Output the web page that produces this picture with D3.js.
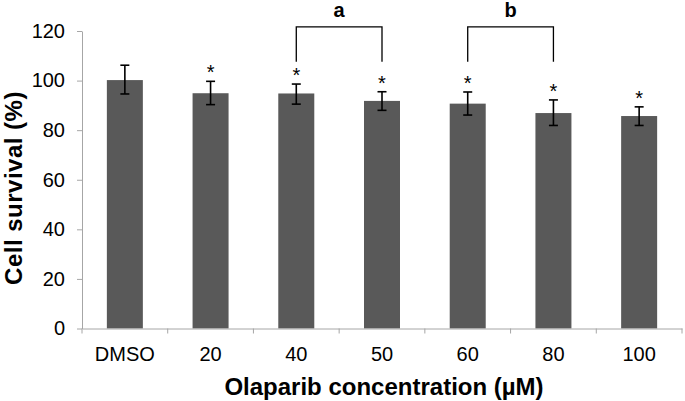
<!DOCTYPE html>
<html><head><meta charset="utf-8">
<script src="https://cdn.jsdelivr.net/npm/d3@7"></script>
<style>body{margin:0;background:#fff}svg{display:block}text{font-family:"Liberation Sans",Arial,sans-serif}</style>
</head><body><svg id="c" width="685" height="401"></svg>
<script>
const categories = ["DMSO","20","40","50","60","80","100"];
const survival = [100.2, 94.9, 94.8, 91.8, 90.7, 86.9, 85.7];
const errTop = [106.2, 99.7, 98.6, 95.5, 95.4, 92.2, 89.4];
const errBottom = [94.6, 90.3, 90.5, 88.0, 86.1, 81.9, 81.9];
const significant = [false, true, true, true, true, true, true];
const yTicks = [0,20,40,60,80,100,120];
const brackets = [{from:"40", to:"50", label:"a"}, {from:"60", to:"80", label:"b"}];

const svg = d3.select("#c");
const x = d3.scaleBand().domain(categories).range([82, 682]).paddingInner(0.58).paddingOuter(0.29);
const y = d3.scaleLinear().domain([0,120]).range([328.5, 31]);
const axisColor = "#a6a6a6";
const font = "Liberation Sans, Arial, sans-serif";

// bars
svg.selectAll("rect.bar").data(categories).join("rect")
  .attr("x", d => x(d)).attr("width", x.bandwidth())
  .attr("y", (d,i) => y(survival[i])).attr("height", (d,i) => y(0) - y(survival[i]))
  .attr("fill", "#595959");

// axes
const yAxis = svg.append("g").attr("transform", "translate(82,0)")
  .call(d3.axisLeft(y).tickValues(yTicks).tickSize(5).tickPadding(12).tickSizeOuter(0));
yAxis.select(".domain").attr("stroke", axisColor);
yAxis.selectAll(".tick line").attr("stroke", axisColor);
yAxis.selectAll(".tick text").attr("font-size", 20).attr("fill", "#000").attr("font-family", font);

const xAxis = svg.append("g").attr("transform", `translate(0,${y(0)})`)
  .call(d3.axisBottom(x).tickSize(0).tickPadding(18));
xAxis.select(".domain").attr("stroke", axisColor);
xAxis.selectAll(".tick text").attr("font-size", 20).attr("fill", "#000").attr("font-family", font);
// category boundary ticks
const step = x.step();
const bounds = categories.map((c,i) => x(c) - (step - x.bandwidth())/2).concat([682]);
svg.selectAll("line.bt").data(bounds).join("line")
  .attr("x1", d => d).attr("x2", d => d)
  .attr("y1", y(0)).attr("y2", y(0) + 5)
  .attr("stroke", axisColor);

// error bars
const cx = d => x(d) + x.bandwidth()/2;
const eb = svg.append("g").attr("stroke", "#000").attr("stroke-width", 1.6);
categories.forEach((c,i) => {
  eb.append("line").attr("x1", cx(c)).attr("x2", cx(c)).attr("y1", y(errTop[i])).attr("y2", y(errBottom[i]));
  eb.append("line").attr("x1", cx(c)-4.5).attr("x2", cx(c)+4.5).attr("y1", y(errTop[i])).attr("y2", y(errTop[i]));
  eb.append("line").attr("x1", cx(c)-4.5).attr("x2", cx(c)+4.5).attr("y1", y(errBottom[i])).attr("y2", y(errBottom[i]));
});

// asterisks
svg.selectAll("text.star").data(categories.filter((c,i) => significant[i])).join("text")
  .attr("x", d => cx(d)).attr("y", d => y(errTop[categories.indexOf(d)]) - 2)
  .attr("text-anchor", "middle").attr("font-size", 20).attr("fill", "#000").text("*");

// brackets
brackets.forEach(b => {
  const x1 = cx(b.from), x2 = cx(b.to);
  svg.append("path").attr("d", `M${x1},${y(107.6)}V${y(121.7)}H${x2}V${y(107.6)}`)
    .attr("fill", "none").attr("stroke", "#000").attr("stroke-width", 1.3);
  svg.append("text").attr("x", (x1+x2)/2).attr("y", 17).attr("text-anchor", "middle")
    .attr("font-size", 20).attr("font-weight", "bold").text(b.label);
});

// titles
svg.append("text").attr("x", 384).attr("y", 395).attr("text-anchor", "middle")
  .attr("font-size", 24).attr("font-weight", "bold").text("Olaparib concentration (µM)");
svg.append("text").attr("transform", "translate(22,188) rotate(-90)").attr("text-anchor", "middle")
  .attr("font-size", 24).attr("font-weight", "bold").attr("letter-spacing", 0.5).text("Cell survival (%)");
</script></body></html>
